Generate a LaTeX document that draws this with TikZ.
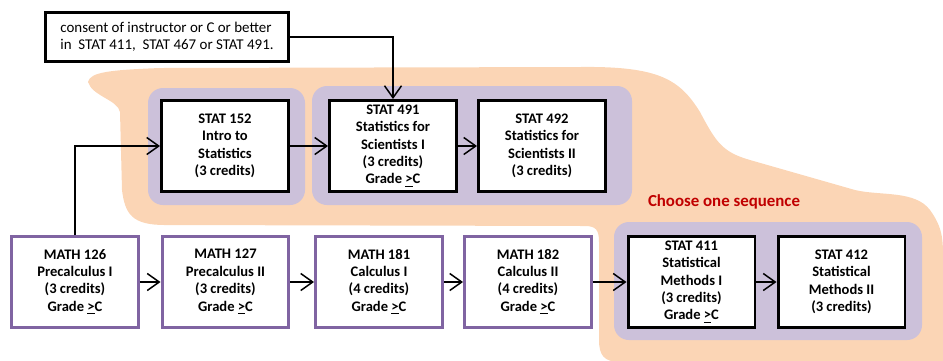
\documentclass[tikz,border=0pt]{standalone}
\usepackage{fontspec}
\setmainfont{Carlito}
\usetikzlibrary{arrows.meta}
\definecolor{peach}{HTML}{FBD5B5}
\definecolor{lilac}{HTML}{CCC1DA}
\definecolor{mathpurple}{HTML}{8064A2}
\definecolor{seqred}{HTML}{C00000}
\tikzset{
  course/.style={draw=black, line width=1.7pt, fill=white, minimum width=2.54cm,
    minimum height=1.82cm, align=center, inner sep=1pt,
    font=\fontsize{8.3}{9.9}\selectfont\bfseries},
  mathcourse/.style={course, draw=mathpurple},
  prereq/.style={-{Straight Barb[length=2.4mm,width=3.4mm]}, line width=0.85pt},
}
\begin{document}
\begin{tikzpicture}[x=0.02cm,y=-0.02cm]
  \useasboundingbox (0,0) rectangle (943,360);
  %Background area of the statistics courses
  \fill[peach] (88,82) .. controls (90,72) and (110,70) .. (160,68) -- (580,67)
    .. controls (660,66) and (680,80) .. (700,112) .. controls (716,142) and (722,152) .. (750,160)
    -- (855,190) .. controls (880,196) and (915,190) .. (930,210)
    .. controls (943,228) and (943,240) .. (943,260) -- (943,362) -- (620,362)
    .. controls (604,362) and (599,355) .. (599,340) -- (599,242)
    .. controls (599,230) and (596,226) .. (585,226) -- (165,225)
    .. controls (132,225) and (125,214) .. (122,190) -- (120,112)
    .. controls (118,100) and (92,96) .. (88,82) -- cycle;
  %Groups
  \fill[lilac, rounded corners=0.3cm] (148,88) rectangle (305,205);
  \fill[lilac, rounded corners=0.3cm] (312,86) rectangle (632,205);
  \fill[lilac, rounded corners=0.3cm] (614,222) rectangle (922,340);

  %Statistics sequence
  \node[course] (s152) at (225,146) {STAT 152\\Intro to\\Statistics\\(3 credits)};
  \node[course] (s491) at (393,146) {STAT 491\\Statistics for\\Scientists I\\(3 credits)\\Grade \underline{>}C};
  \node[course] (s492) at (542,146) {STAT 492\\Statistics for\\Scientists II\\(3 credits)};
  \node[course] (s411) at (691.5,282) {STAT 411\\Statistical\\Methods I\\(3 credits)\\Grade \underline{>}C};
  \node[course] (s412) at (841.5,282) {STAT 412\\Statistical\\Methods II\\(3 credits)};

  %Mathematics sequence
  \node[mathcourse] (m126) at (75,282) {MATH 126\\Precalculus I\\(3 credits)\\Grade \underline{>}C};
  \node[mathcourse] (m127) at (225.5,282) {MATH 127\\Precalculus II\\(3 credits)\\Grade \underline{>}C};
  \node[mathcourse] (m181) at (379,282) {MATH 181\\Calculus I\\(4 credits)\\Grade \underline{>}C};
  \node[mathcourse] (m182) at (528,282) {MATH 182\\Calculus II\\(4 credits)\\Grade \underline{>}C};

  %Alternative prerequisite
  \node[draw=black, line width=1.7pt, fill=white, minimum width=4.86cm, minimum height=0.98cm,
    align=left, font=\fontsize{8.5}{9.8}\selectfont] (consent) at (167,37)
    {consent of instructor or C or better\\in~ STAT 411,~ STAT 467 or STAT 491.};
  \node[text=seqred, font=\fontsize{9.6}{11}\selectfont\bfseries] (choose) at (724,202) {Choose one sequence};

  %Prerequisites
  \draw[prereq] (consent.east) -| (s491.north);
  \draw[prereq] (m126.north) |- (s152.west);
  \draw[prereq] (s152) -- (s491);
  \draw[prereq] (s491) -- (s492);
  \draw[prereq] (m126) -- (m127);
  \draw[prereq] (m127) -- (m181);
  \draw[prereq] (m181) -- (m182);
  \draw[prereq] (m182) -- (s411);
  \draw[prereq] (s411) -- (s412);
\end{tikzpicture}
\end{document}
